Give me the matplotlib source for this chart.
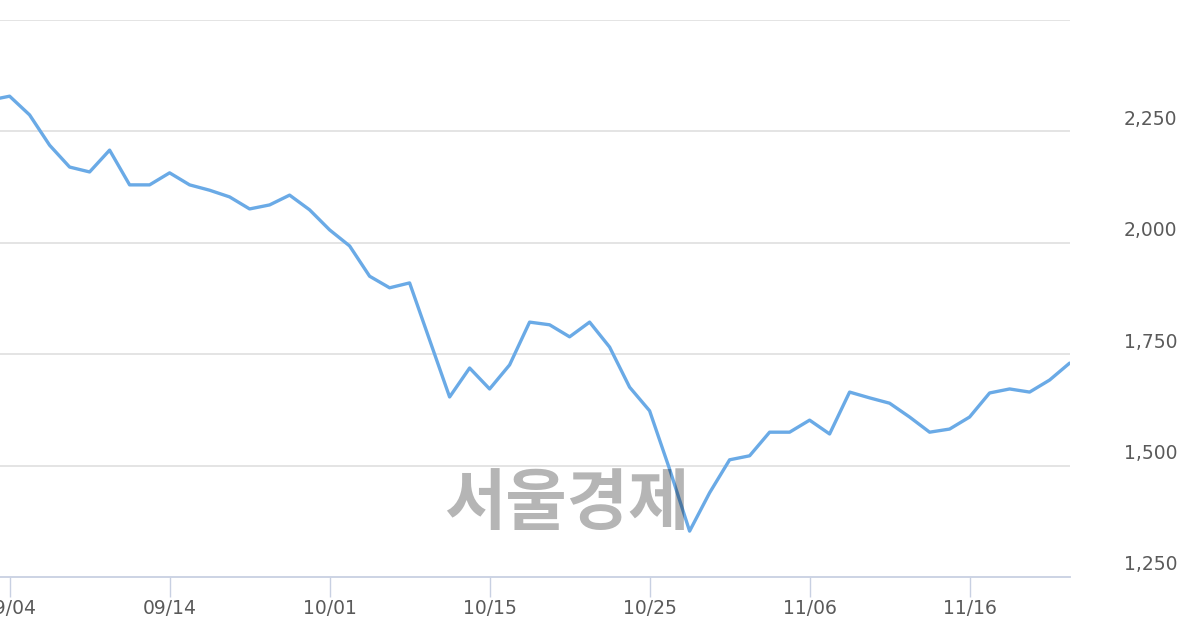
import matplotlib
matplotlib.use("Agg")
import matplotlib.pyplot as plt
from matplotlib.transforms import blended_transform_factory, ScaledTranslation

# ---- data (2018 trading days) ----
dates = ["09/03", "09/04", "09/05", "09/06", "09/07", "09/10", "09/11", "09/12", "09/13", "09/14",
         "09/17", "09/18", "09/19", "09/20", "09/21", "09/27", "09/28",
         "10/01", "10/02", "10/04", "10/05", "10/08", "10/10", "10/11", "10/12", "10/15",
         "10/16", "10/17", "10/18", "10/19", "10/22", "10/23", "10/24", "10/25", "10/26",
         "10/29", "10/30", "10/31", "11/01", "11/02", "11/05", "11/06", "11/07", "11/08",
         "11/09", "11/12", "11/13", "11/14", "11/15", "11/16", "11/19", "11/20", "11/21",
         "11/22", "11/23"]
prices = [2320, 2329, 2287, 2219, 2170, 2159, 2208, 2130, 2130, 2157,
          2130, 2118, 2103, 2076, 2085, 2107, 2074,
          2029, 1993, 1925, 1899, 1910, 1782, 1654, 1719, 1672,
          1726, 1822, 1816, 1789, 1822, 1766, 1676, 1623, 1492,
          1353, 1439, 1513, 1522, 1575, 1575, 1602, 1571, 1665,
          1652, 1640, 1609, 1575, 1582, 1609, 1663, 1672, 1665,
          1692, 1730]
tick_labels = ["09/04", "09/14", "10/01", "10/15", "10/25", "11/06", "11/16"]
y_ticks = [1250, 1500, 1750, 2000, 2250, 2500]
y_labels = ["1,250", "1,500", "1,750", "2,000", "2,250", ""]
watermark = "서울경제"

W, H, DPI = 1200, 630, 100
fig = plt.figure(figsize=(W / DPI, H / DPI), dpi=DPI)
fig.patch.set_facecolor("white")

ax_left, ax_right = 0 / W, 1070 / W
ax_top, ax_bottom = 1 - 20 / H, 1 - 577 / H
ax = fig.add_axes([ax_left, ax_bottom, ax_right - ax_left, ax_top - ax_bottom])

xs = list(range(-1, len(dates) - 1))
ax.plot(xs, prices, color="#6aaae6", lw=2.4, solid_joinstyle="round",
        solid_capstyle="round", zorder=3)

ax.set_xlim(-0.48, 53.02)
ax.set_ylim(y_ticks[0], y_ticks[-1])

# gridlines
for v in y_ticks[1:]:
    ax.axhline(v, color="#e2e2e2", lw=1.3, zorder=1)

# y labels (right side, above gridlines)
trans = blended_transform_factory(fig.transFigure, ax.transData)
for v, lab in zip(y_ticks, y_labels):
    if not lab:
        continue
    ax.text(1177 / W, v, lab,
            transform=trans + ScaledTranslation(0, 12 / DPI, fig.dpi_scale_trans),
            ha="right", va="center", fontsize=13.5, color="#5a5a5a",
            family="DejaVu Sans", clip_on=False)

# x ticks
tick_pos = [xs[dates.index(d)] for d in tick_labels]
ax.set_xticks(tick_pos)
ax.set_xticklabels(tick_labels, fontsize=13.5, color="#5a5a5a", family="DejaVu Sans")
ax.tick_params(axis="x", length=14.4, width=1.0, color="#c8d0e2", pad=1.5)
ax.set_yticks([])

for s in ["top", "left", "right"]:
    ax.spines[s].set_visible(False)
ax.spines["bottom"].set_color("#c8d0e2")
ax.spines["bottom"].set_linewidth(1.3)

# watermark
fig.text(567 / W, 1 - 505 / H, watermark, ha="center", va="center",
         fontsize=48, fontweight="bold", color="black", alpha=0.29,
         family=["Noto Sans CJK KR", "DejaVu Sans"], zorder=10)

fig.savefig("out.png", dpi=DPI, facecolor="white")
